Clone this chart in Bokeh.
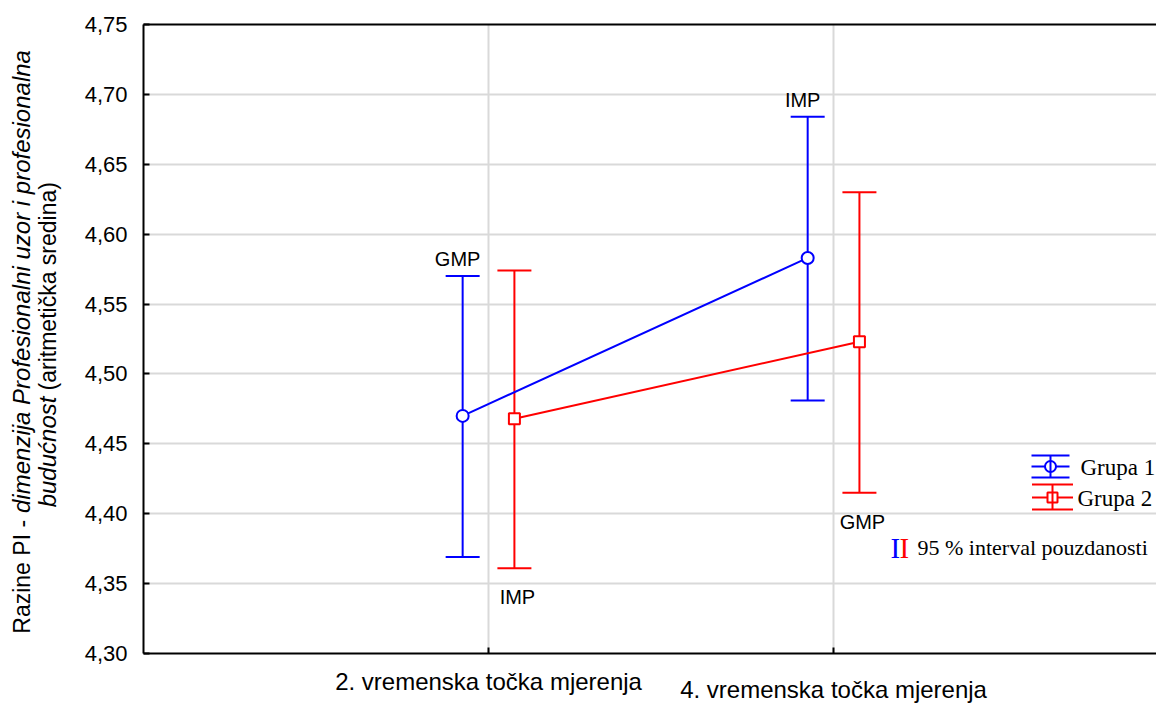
import math
from bokeh.plotting import figure
from bokeh.layouts import row, column
from bokeh.models import (ColumnDataSource, Whisker, TeeHead, FixedTicker,
                          LinearAxis, Label, Range1d)
from bokeh.embed import file_html
from bokeh.resources import INLINE
from bokeh.core.properties import value

# ---------------- data ----------------
categories = ["2. vremenska točka mjerenja", "4. vremenska točka mjerenja"]
cat_pos = [1, 2]
groups = ["Grupa 1", "Grupa 2"]

g1_mean = [4.470, 4.583]
g1_lower = [4.369, 4.481]
g1_upper = [4.570, 4.684]
g1_point_labels = ["GMP", "IMP"]      # shown above the upper limit

g2_mean = [4.468, 4.523]
g2_lower = [4.361, 4.415]
g2_upper = [4.574, 4.630]
g2_point_labels = ["IMP", "GMP"]      # shown below the lower limit

y_ticks = [4.30, 4.35, 4.40, 4.45, 4.50, 4.55, 4.60, 4.65, 4.70, 4.75]
y_tick_labels = ["4,30", "4,35", "4,40", "4,45", "4,50", "4,55", "4,60", "4,65", "4,70", "4,75"]

ci_text = "95 % interval pouzdanosti"
y_title_line1 = ["Razine PI -", "dimenzija Profesionalni uzor i profesionalna"]
y_title_line2 = ["budućnost", "(aritmetička sredina)"]

# ---------------- layout / style ----------------
W, H = 1156, 704
FL, FT, FB = 143, 24, 653          # frame left / top / bottom (picture px)
LW = 76                            # width of the y-title strip
MH = FB + 14                       # height of the main figure
BH = H - MH                        # height of the category-label strip
X0, X1 = 0.0, 2.936
Y0, Y1 = 4.30, 4.75
dodge = 0.075
BLUE, RED = "#0000ff", "#ff0000"
SANS = "Liberation Sans"
SERIF = "Liberation Serif"
BSHIFT = 8                         # alphabetic baseline correction

PXX = (W - FL) / (X1 - X0)
PXY = (FB - FT) / (Y1 - Y0)


def dx(px):
    return X0 + (px - FL) / PXX


def dy(py):
    return Y0 + (FB - py) / PXY


def sx(px):
    return px - FL


def sy(py):
    return FB - py


xr = Range1d(X0, X1)
p = figure(width=W - LW, height=MH, x_range=xr, y_range=Range1d(Y0, Y1),
           output_backend="svg", toolbar_location=None,
           min_border_left=FL - LW, min_border_top=FT, min_border_bottom=MH - FB,
           min_border_right=0, outline_line_color=None,
           background_fill_color="white", border_fill_color="white")

# axes
p.xaxis.ticker = FixedTicker(ticks=cat_pos)
p.xaxis.major_label_overrides = {c: "" for c in cat_pos}
p.xaxis.major_label_text_font_size = "10px"
p.xaxis.major_label_standoff = 0
p.yaxis.ticker = FixedTicker(ticks=y_ticks)
p.yaxis.major_label_overrides = dict(zip(y_ticks, y_tick_labels))
for ax in (p.xaxis[0], p.yaxis[0]):
    ax.axis_line_color = "black"
    ax.axis_line_width = 2
    ax.major_tick_in = 6
    ax.major_tick_out = 0
    ax.major_tick_line_color = "black"
    ax.major_tick_line_width = 2
    ax.minor_tick_line_color = None
p.yaxis.major_label_text_font = SANS
p.yaxis.major_label_text_font_size = "22px"
p.yaxis.major_label_text_color = "black"
p.yaxis.major_label_standoff = 16

top_axis = LinearAxis(ticker=FixedTicker(ticks=[]), major_label_text_font_size="10px",
                      major_tick_in=0, major_tick_out=0, minor_tick_line_color=None,
                      axis_line_color="black", axis_line_width=2, major_label_standoff=0)
p.add_layout(top_axis, "above")

p.xgrid.ticker = FixedTicker(ticks=cat_pos)
p.ygrid.ticker = FixedTicker(ticks=y_ticks)
p.grid.grid_line_color = "#d9d9d9"
p.grid.grid_line_width = 2

# series
series = [
    (g1_mean, g1_lower, g1_upper, BLUE, -dodge, "circle", 12, g1_point_labels, "above"),
    (g2_mean, g2_lower, g2_upper, RED, +dodge, "square", 11, g2_point_labels, "below"),
]
for mean, lo, up, col, off, mk, ms, plabels, where in series:
    xs = [c + off for c in cat_pos]
    src = ColumnDataSource(dict(x=xs, mean=mean, lower=lo, upper=up, lab=plabels))
    p.add_layout(Whisker(source=src, base="x", lower="lower", upper="upper",
                         line_color=col, line_width=2,
                         upper_head=TeeHead(size=34, line_color=col, line_width=2),
                         lower_head=TeeHead(size=34, line_color=col, line_width=2)))
    p.line("x", "mean", source=src, line_color=col, line_width=2)
    p.scatter("x", "mean", source=src, marker=mk, size=ms, line_color=col,
              fill_color="white", line_width=2)
    if where == "above":
        p.text("x", "upper", text="lab", source=src, x_offset=-5, y_offset=-9 - BSHIFT,
               text_align="center", text_baseline="alphabetic",
               text_font=value(SANS), text_font_size="20px", text_color="black")
    else:
        p.text("x", "lower", text="lab", source=src, x_offset=3, y_offset=37 - BSHIFT,
               text_align="center", text_baseline="alphabetic",
               text_font=value(SANS), text_font_size="20px", text_color="black")

# legend
leg = [
    (groups[0], BLUE, "circle", 11, 1050, 455, 466, 477, 38, 1080, 475),
    (groups[1], RED, "square", 10, 1052, 484, 497, 509, 41, 1077, 506),
]
for name, col, mk, ms, cx, ytop, ymid, ybot, wid, tx, tb in leg:
    lsrc = ColumnDataSource(dict(x=[dx(cx)], lower=[dy(ybot)], upper=[dy(ytop)],
                                 mid=[dy(ymid)]))
    p.add_layout(Whisker(source=lsrc, base="x", lower="lower", upper="upper",
                         line_color=col, line_width=2, level="overlay",
                         upper_head=TeeHead(size=wid, line_color=col, line_width=2),
                         lower_head=TeeHead(size=wid, line_color=col, line_width=2)))
    p.scatter("x", "mid", source=lsrc, marker="dash", size=wid, line_color=col,
              line_width=2)
    p.scatter("x", "mid", source=lsrc, marker=mk, size=ms, line_color=col,
              fill_color="white", line_width=2)
    p.add_layout(Label(x=sx(tx), y=sy(tb - BSHIFT), x_units="screen", y_units="screen",
                       text=name, text_baseline="alphabetic", text_font=SERIF,
                       text_font_size="23px", text_color="black"))

for txt, px, col, fs in [("I", 890, BLUE, "29px"), ("I", 899, RED, "29px"),
                         (ci_text, 917, "black", "22px")]:
    p.add_layout(Label(x=sx(px), y=sy(555 - BSHIFT), x_units="screen", y_units="screen",
                       text=txt, text_baseline="alphabetic", text_font=SERIF,
                       text_font_size=fs, text_color=col))

# ---------------- y-title strip ----------------
lt = figure(width=LW, height=MH, x_range=Range1d(0, LW), y_range=Range1d(0, MH),
            output_backend="svg", toolbar_location=None, x_axis_type=None,
            y_axis_type=None, min_border=0, outline_line_color=None,
            background_fill_color="white", border_fill_color="white")
lt.grid.visible = False
title_parts = [
    (y_title_line1[0], "normal", "23px", 29, 646),
    (y_title_line1[1], "italic", "24px", 29, 518),
    (y_title_line2[0], "italic", "24px", 55, 512),
    (y_title_line2[1], "normal", "23px", 55, 388),
]
for txt, style, fs, bx, start in title_parts:
    lt.add_layout(Label(x=bx - BSHIFT, y=MH - start, text=txt, angle=math.pi / 2,
                        text_align="left", text_baseline="alphabetic", text_font=SANS,
                        text_font_style=style, text_font_size=fs, text_color="black"))

# ---------------- category-label strip ----------------
bt = figure(width=W, height=BH, x_range=xr, y_range=Range1d(0, BH),
            output_backend="svg", toolbar_location=None, x_axis_type=None,
            y_axis_type=None, min_border_left=FL, min_border_right=0,
            min_border_top=0, min_border_bottom=0, outline_line_color=None,
            background_fill_color="white", border_fill_color="white")
bt.grid.visible = False
cat_baselines = [689, 697]
for c, txt, bl in zip(cat_pos, categories, cat_baselines):
    bt.add_layout(Label(x=c, y=H - (bl - BSHIFT), text=txt, text_align="center",
                        text_baseline="alphabetic", text_font=SANS,
                        text_font_size="24px", text_color="black"))

layout = column(row(lt, p), bt)
open("out.html", "w").write(file_html(layout, INLINE))
